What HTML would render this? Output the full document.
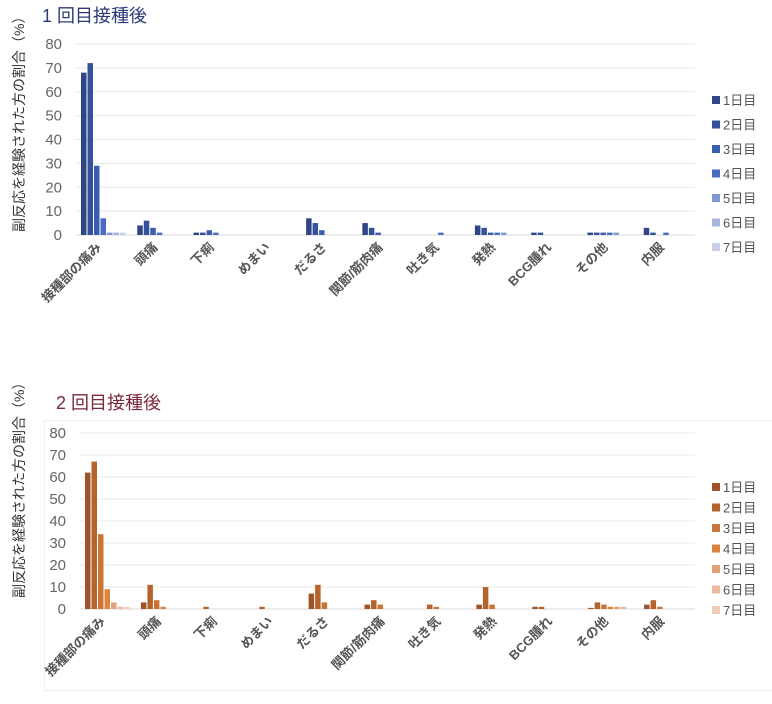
<!DOCTYPE html>
<html><head><meta charset="utf-8"><style>
body{margin:0;background:#fff;}
svg{display:block;font-family:"Liberation Sans","Noto Sans CJK JP",sans-serif;}
</style></head><body>
<svg id="s" width="772" height="704" viewBox="0 0 772 704" xmlns="http://www.w3.org/2000/svg">
<text x="42" y="22" font-size="18" fill="#2c3a78">1 回目接種後</text>
<text x="56" y="409" font-size="18" fill="#7a2a3a">2 回目接種後</text>
<text transform="translate(24,232) rotate(-90)" font-size="14" fill="#333">副反応を経験された方の割合（%）</text>
<text transform="translate(24,598) rotate(-90)" font-size="14" fill="#333">副反応を経験された方の割合（%）</text>
<rect x="44.5" y="420.5" width="740" height="270" fill="none" stroke="#eee"/>
<g id="g"></g>
</svg>
<script>
var cats=["接種部の痛み","頭痛","下痢","めまい","だるさ","関節/筋肉痛","吐き気","発熱","BCG腫れ","その他","内服"];
var d1=[[68,72,29,7,1,1,1],[4,6,3,1],[1,1,2,1],[],[7,5,2],[5,3,1],[0,0,0,1],[4,3,1,1,1],[1,1],[1,1,1,1,1],[3,1,0,1]];
var d2=[[62,67,34,9,3,1,1],[3,11,4,1],[0,1],[0,1],[7,11,3],[2,4,2],[0,2,1],[2,10,2],[1,1],[0.5,3,2,1,1,1],[2,4,1]];
var c1=["#2f4585","#34519a","#3b5dae","#4a6cc0","#8097d0","#a9b5dc","#c8cfe6"];
var c2=["#9c5428","#b5632d","#c87535","#d9843f","#e2a07a","#e9b9a0","#efcdbb"];
var h="";
function chart(x0,x1,yTop,y0,yl,d,c,leg0,legStep){
 var ppu=(y0-yTop)/80, cw=(x1-x0)/11;
 for(var v=0;v<=80;v+=10){var y=y0-v*ppu;
  h+='<line x1="'+x0+'" x2="'+x1+'" y1="'+y+'" y2="'+y+'" stroke="'+(v==0?"#d8d8d8":"#e8e8e8")+'"/>';
  h+='<text x="'+(x0-14)+'" y="'+(y+5)+'" font-size="15" fill="#666" text-anchor="end">'+v+'</text>';}
 for(var i=0;i<11;i++){var gx=x0+i*cw+5;
  for(var j=0;j<d[i].length;j++){if(!d[i][j])continue;var hh=d[i][j]*ppu;
   h+='<rect x="'+(gx+j*6.5)+'" y="'+(y0-hh)+'" width="5.5" height="'+hh+'" fill="'+c[j]+'"/>';}
  var cx=x0+i*cw+cw/2-2;
  h+='<text transform="translate('+cx+','+(y0+13)+') rotate(-45)" font-size="13" font-weight="bold" fill="#555" text-anchor="end">'+cats[i]+'</text>';}
 for(var k=0;k<7;k++){var ly=leg0+k*legStep;
  h+='<rect x="712" y="'+(ly-4)+'" width="8" height="8" fill="'+c[k]+'"/>';
  h+='<text x="723" y="'+(ly+5)+'" font-size="13" fill="#555">'+(k+1)+'日目</text>';}
}
chart(76,695,44,235,0,d1,c1,100,24.5);
chart(80,695,433,609,0,d2,c2,487,20.5);
document.getElementById("g").innerHTML=h;
</script>
</body></html>
